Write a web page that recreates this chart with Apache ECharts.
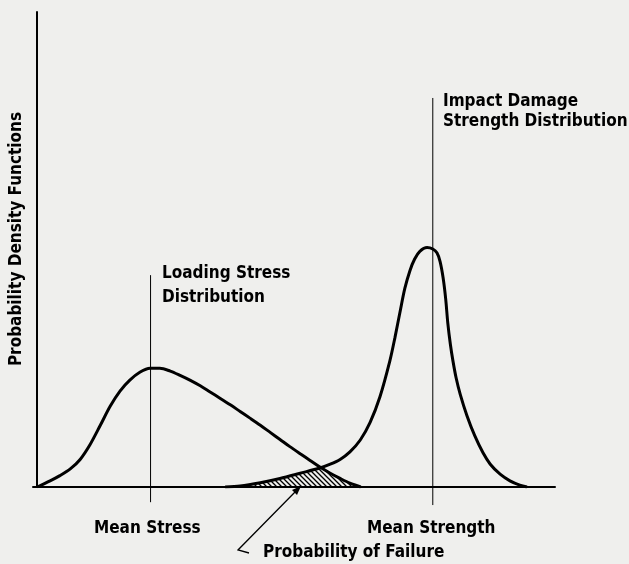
<!DOCTYPE html>
<html>
<head>
<meta charset="utf-8">
<script src="https://cdn.jsdelivr.net/npm/echarts@6/dist/echarts.min.js"></script>
<style>
  html, body { margin: 0; padding: 0; background: #efefed; }
  #chart { width: 629px; height: 564px; }
</style>
</head>
<body>
<div id="chart"></div>
<script>
// curves, x and y both in 0..100 units
const stressCurve = [
  [0, 0], [2.5, 1.3], [4.4, 2.4], [6.4, 3.8], [8.3, 5.8], [10.2, 8.9],
  [12.2, 13.0], [14.1, 17.0], [16.0, 20.2], [17.9, 22.5], [19.9, 24.2],
  [21.8, 25.0], [23.7, 25.0], [25.7, 24.4], [27.6, 23.5], [29.5, 22.5],
  [31.5, 21.3], [33.4, 20.0], [35.3, 18.7], [37.3, 17.3], [39.2, 15.9],
  [41.1, 14.5], [43.1, 13.0], [45.0, 11.5], [46.9, 10.0], [48.8, 8.5],
  [50.8, 7.0], [52.7, 5.6], [54.6, 4.2], [56.6, 2.9], [58.5, 1.8],
  [60.4, 0.8], [62.5, 0]
];
const strengthCurve = [
  [36.3, 0], [39.2, 0.2], [43.1, 0.9], [46.9, 1.8], [50.8, 2.9], [54.6, 4.0],
  [56.6, 4.8], [58.5, 5.8], [60.4, 7.4], [62.4, 9.9], [64.3, 13.6],
  [66.2, 19.0], [68.1, 26.5], [69.1, 31.5], [70.1, 37.0], [71.0, 41.8],
  [72.0, 45.6], [72.9, 48.0], [73.9, 49.6], [75.3, 50.4], [76.4, 50.1],
  [77.2, 49.3], [77.8, 47.5], [78.4, 44.0], [78.9, 39.5], [79.3, 34.5],
  [79.8, 30.0], [80.3, 26.5], [80.9, 23.0], [81.7, 19.5], [83.0, 15.0],
  [84.5, 10.8], [86.1, 7.2], [87.5, 4.8], [89.4, 2.7], [91.3, 1.3],
  [93.2, 0.4], [94.6, 0]
];
// overlap of the two curves (hatched)
const failureArea = [
  [36.3, 0], [39.2, 0.2], [43.1, 0.9], [46.9, 1.8], [50.8, 2.9], [54.6, 4.0],
  [55.0, 4.1], [56.6, 2.9], [58.5, 1.8], [60.4, 0.8], [62.5, 0]
];
// mean markers: [x, yTop, yBottom]
const meanStress = [21.9, 44.6, -3.2];
const meanStrength = [76.4, 81.9, -3.8];

const fontFamily = '"DejaVu Sans Condensed", "DejaVu Sans", sans-serif';
const labelFont = 'bold 17px ' + fontFamily;

// diagonal hatch pattern
function hatchPattern() {
  const c = document.createElement("canvas");
  c.width = 5;
  c.height = 5;
  const ctx = c.getContext("2d");
  ctx.strokeStyle = "#000";
  ctx.lineWidth = 1.3;
  ctx.beginPath();
  ctx.moveTo(-1, -1); ctx.lineTo(6, 6);
  ctx.moveTo(-1, 4); ctx.lineTo(1, 6);
  ctx.moveTo(4, -1); ctx.lineTo(6, 1);
  ctx.stroke();
  return { image: c, repeat: "repeat" };
}

function meanLine(m) {
  return {
    type: "line",
    data: [[m[0], m[1]], [m[0], m[2]]],
    symbol: "none",
    clip: false,
    lineStyle: { color: "#000", width: 1 },
    z: 1,
  };
}

const chart = echarts.init(document.getElementById("chart"));

const option = {
  backgroundColor: "#efefed",
  animation: false,
  grid: { left: 33, right: 74, top: 12, bottom: 77, outerBoundsMode: "none", containLabel: false },
  xAxis: {
    type: "value",
    min: -0.8,
    max: 100,
    axisLine: { onZero: true, lineStyle: { color: "#000", width: 2 } },
    axisTick: { show: false },
    axisLabel: { show: false },
    splitLine: { show: false },
  },
  yAxis: {
    type: "value",
    min: 0,
    max: 100,
    axisLine: { onZero: true, lineStyle: { color: "#000", width: 2 } },
    axisTick: { show: false },
    axisLabel: { show: false },
    splitLine: { show: false },
  },
  series: [
    {
      type: "line",
      data: failureArea,
      symbol: "none",
      smooth: 0.3,
      lineStyle: { width: 0 },
      areaStyle: { color: hatchPattern(), opacity: 1 },
      z: 2,
    },
    {
      type: "line",
      data: stressCurve,
      symbol: "none",
      smooth: 0.3,
      lineStyle: { color: "#000", width: 3 },
      z: 3,
    },
    {
      type: "line",
      data: strengthCurve,
      symbol: "none",
      smooth: 0.3,
      lineStyle: { color: "#000", width: 3 },
      z: 3,
    },
    meanLine(meanStress),
    meanLine(meanStrength),
  ],
  graphic: [
    {
      type: "text", x: 17, y: 239, rotation: Math.PI / 2,
      style: { text: "Probability Density Functions", font: labelFont, fill: "#000", textAlign: "center", textVerticalAlign: "middle" },
    },
    { type: "text", left: 162, top: 262, style: { text: "Loading Stress\nDistribution", font: labelFont, fill: "#000", lineHeight: 24 } },
    { type: "text", left: 443, top: 92, style: { text: "Impact Damage\nStrength Distribution", font: labelFont, fill: "#000", lineHeight: 20 } },
    { type: "text", left: 94, top: 520, style: { text: "Mean Stress", font: labelFont, fill: "#000" } },
    { type: "text", left: 367, top: 520, style: { text: "Mean Strength", font: labelFont, fill: "#000" } },
    { type: "text", left: 263, top: 544, style: { text: "Probability of Failure", font: labelFont, fill: "#000" } },
    {
      type: "polyline",
      shape: { points: [[249, 553], [238, 550], [296, 491]] },
      style: { stroke: "#000", lineWidth: 1.3, fill: null },
    },
    {
      type: "polygon",
      shape: { points: [[301, 486], [292, 490], [297, 495]] },
      style: { fill: "#000" },
    },
  ],
};

chart.setOption(option);
</script>
</body>
</html>
